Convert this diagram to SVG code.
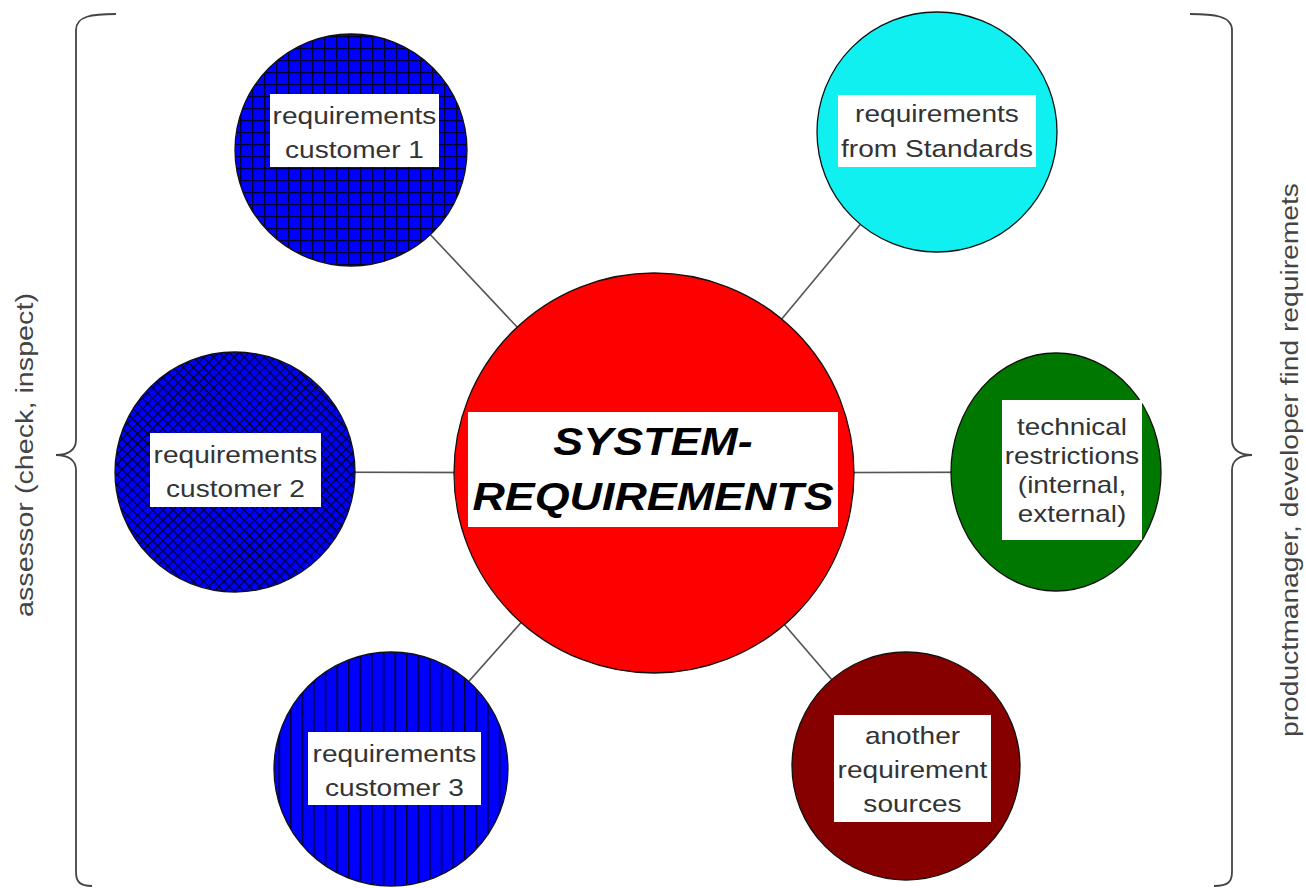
<svg xmlns="http://www.w3.org/2000/svg" width="1306" height="888" viewBox="0 0 1306 888">
  <style>
    .conn { stroke: #555; stroke-width: 1.6; fill: none; }
    .brace { stroke: #444; stroke-width: 1.8; fill: none; }
    .ring { stroke: #111; stroke-width: 1.3; }
    .box { fill: #fff; }
    .lbl { font-family: "Liberation Sans", Arial, sans-serif; font-size: 24px; fill: #333; text-anchor: middle; }
    .main { font-family: "Liberation Sans", Arial, sans-serif; font-size: 39px; font-weight: bold; font-style: italic; fill: #000; text-anchor: middle; }
    .side { font-family: "Liberation Sans", Arial, sans-serif; font-size: 23px; fill: #444; text-anchor: middle; }
  </style>
  <defs>
    <!-- square grid hatch -->
    <pattern id="grid" patternUnits="userSpaceOnUse" width="12" height="12">
      <rect width="12" height="12" fill="#0000ff"/>
      <path d="M0 0.5H12M0.5 0V12" stroke="#000030" stroke-width="1.6"/>
    </pattern>
    <!-- diagonal cross hatch -->
    <pattern id="diag" patternUnits="userSpaceOnUse" width="7.2" height="7.2" patternTransform="rotate(45)">
      <rect width="7.2" height="7.2" fill="#0000ff"/>
      <path d="M0 0.5H7.2M0.5 0V7.2" stroke="#000030" stroke-width="1.5"/>
    </pattern>
    <!-- vertical stripes -->
    <pattern id="vert" patternUnits="userSpaceOnUse" width="11.6" height="20">
      <rect width="11.6" height="20" fill="#0000ff"/>
      <path d="M0.7 0V20" stroke="#000030" stroke-width="1.6"/>
    </pattern>
  </defs>

  <rect width="1306" height="888" fill="#fff"/>

  <!-- braces and side captions -->
  <g id="brace-left">
    <path class="brace" d="M116 14 C92 14 76 16 76 30 L76 440 C76 450 68 455 56 455 C68 455 76 460 76 470 L76 872 C76 882 80 886 92 886"/>
    <text class="side" transform="translate(33,455) rotate(-90)" textLength="324" lengthAdjust="spacingAndGlyphs">assessor (check, inspect)</text>
  </g>
  <g id="brace-right">
    <path class="brace" d="M1190 14 C1214 14 1232 16 1232 30 L1232 440 C1232 450 1240 455 1252 455 C1240 455 1232 460 1232 470 L1232 872 C1232 882 1228 886 1214 886"/>
    <text class="side" transform="translate(1298,460) rotate(-90)" textLength="554" lengthAdjust="spacingAndGlyphs">productmanager, developer find requiremets</text>
  </g>

  <!-- connectors -->
  <g id="connectors">
    <line class="conn" x1="654" y1="473" x2="351" y2="150"/>
    <line class="conn" x1="654" y1="473" x2="937" y2="132"/>
    <line class="conn" x1="654" y1="473" x2="235" y2="472"/>
    <line class="conn" x1="654" y1="473" x2="1056" y2="472"/>
    <line class="conn" x1="654" y1="473" x2="391" y2="769"/>
    <line class="conn" x1="654" y1="473" x2="906" y2="766"/>
  </g>

  <g id="node-customer1">
    <circle class="ring" cx="351" cy="150" r="116" fill="url(#grid)"/>
    <rect class="box" x="270" y="94" width="169" height="73"/>
    <text class="lbl" transform="matrix(1.17 0 0 1 354.5 0)"><tspan x="0" y="124">requirements</tspan><tspan x="0" y="158">customer 1</tspan></text>
  </g>

  <g id="node-standards">
    <circle class="ring" cx="937" cy="132" r="120" fill="#10f0f0"/>
    <rect class="box" x="838" y="95" width="198" height="72"/>
    <text class="lbl" transform="matrix(1.17 0 0 1 937 0)"><tspan x="0" y="122">requirements</tspan><tspan x="0" y="157">from Standards</tspan></text>
  </g>

  <g id="node-customer2">
    <circle class="ring" cx="235" cy="472" r="120" fill="url(#diag)"/>
    <rect class="box" x="150" y="433" width="171" height="74"/>
    <text class="lbl" transform="matrix(1.17 0 0 1 235.5 0)"><tspan x="0" y="463">requirements</tspan><tspan x="0" y="497">customer 2</tspan></text>
  </g>

  <g id="node-technical">
    <ellipse class="ring" cx="1056" cy="472" rx="105" ry="119" fill="#007800"/>
    <rect class="box" x="1002" y="400" width="140" height="140"/>
    <text class="lbl" transform="matrix(1.16 0 0 1 1072 0)"><tspan x="0" y="435">technical</tspan><tspan x="0" y="464">restrictions</tspan><tspan x="0" y="493">(internal,</tspan><tspan x="0" y="522">external)</tspan></text>
  </g>

  <g id="node-customer3">
    <circle class="ring" cx="391" cy="769" r="117" fill="url(#vert)"/>
    <rect class="box" x="308" y="732" width="173" height="73"/>
    <text class="lbl" transform="matrix(1.17 0 0 1 394.5 0)"><tspan x="0" y="762">requirements</tspan><tspan x="0" y="796">customer 3</tspan></text>
  </g>

  <g id="node-another">
    <circle class="ring" cx="906" cy="766" r="114" fill="#870000"/>
    <rect class="box" x="834" y="715" width="157" height="107"/>
    <text class="lbl" transform="matrix(1.17 0 0 1 912.5 0)"><tspan x="0" y="744">another</tspan><tspan x="0" y="778">requirement</tspan><tspan x="0" y="812">sources</tspan></text>
  </g>

  <g id="node-system">
    <circle class="ring" cx="654" cy="473" r="200" fill="#ff0000"/>
    <rect class="box" x="468" y="412" width="370" height="115"/>
    <text class="main" transform="matrix(1.15 0 0 1 653 0)"><tspan x="0" y="455">SYSTEM-</tspan><tspan x="0" y="510">REQUIREMENTS</tspan></text>
  </g>
</svg>
